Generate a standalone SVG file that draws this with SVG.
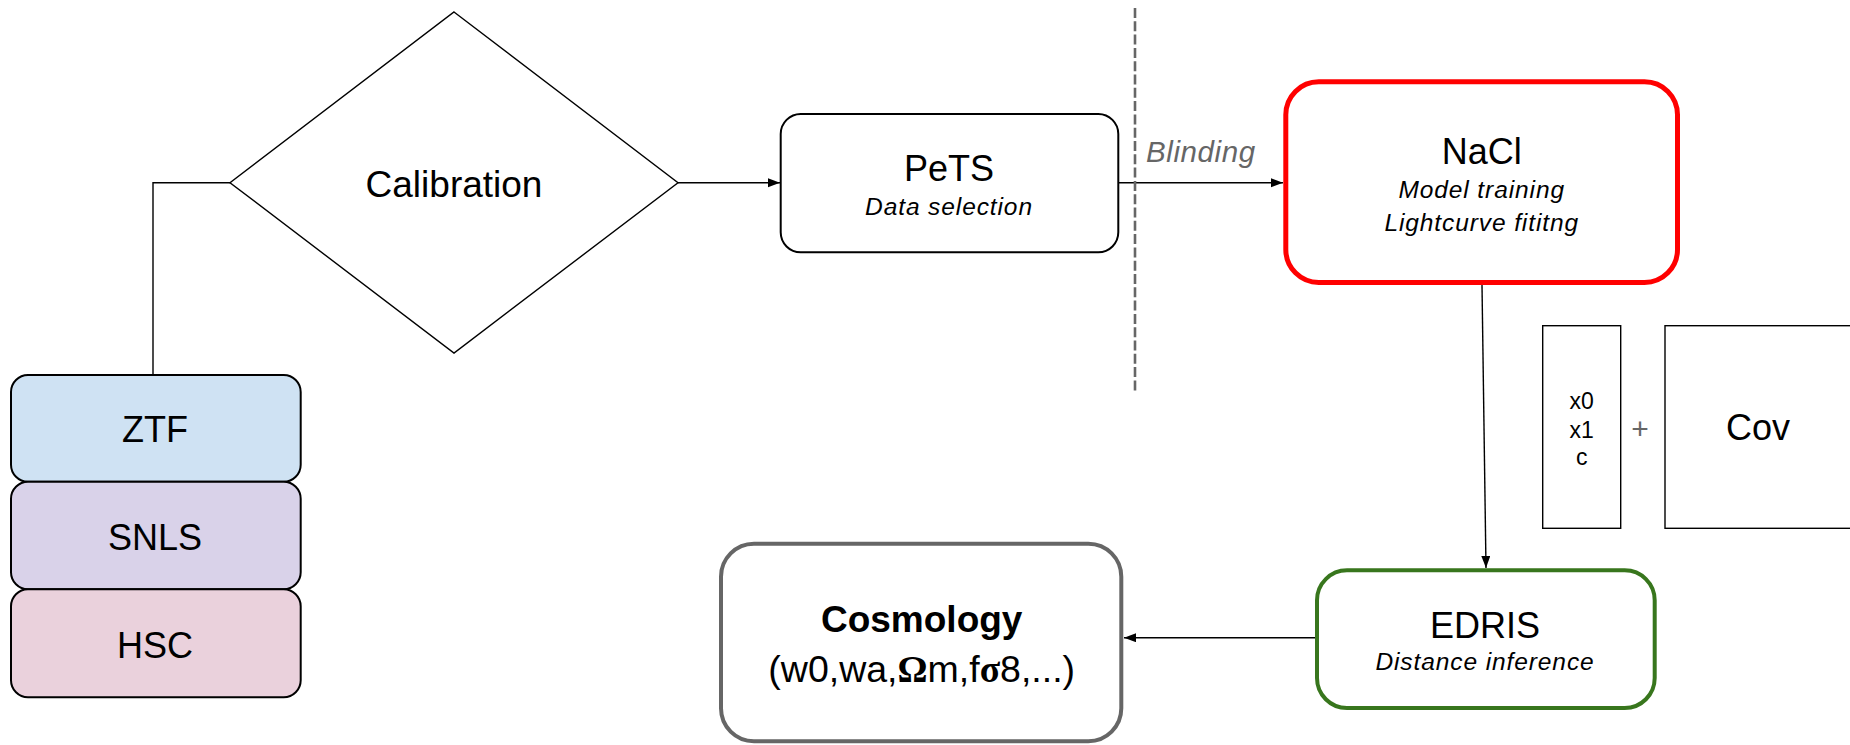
<svg xmlns="http://www.w3.org/2000/svg" width="1850" height="745" viewBox="0 0 1850 745">
<defs>
<style>
text{font-family:"Liberation Sans",Arial,sans-serif;fill:#000;text-anchor:middle}
.t{font-size:36px}
.i{font-size:24.5px;font-style:italic;letter-spacing:0.9px}
.c{fill:none;stroke:#000;stroke-width:1.4}
.box{stroke:#000;stroke-width:2}
</style>
<marker id="ah" markerUnits="userSpaceOnUse" markerWidth="13" markerHeight="10" refX="12" refY="4.5" orient="auto">
<path d="M0,0 L12,4.5 L0,9 z" fill="#000"/>
</marker>
</defs>
<rect width="1850" height="745" fill="#fff"/>

<g id="connectors">
<path class="c" d="M153 397 V182.7 H230"/>
<path class="c" d="M678 182.7 H780" marker-end="url(#ah)"/>
<path class="c" d="M1118.3 182.7 H1283" marker-end="url(#ah)"/>
<path class="c" d="M1482 285 L1486 568" marker-end="url(#ah)"/>
<path class="c" d="M1315 637.7 H1124" marker-end="url(#ah)"/>
<line x1="1135" y1="8" x2="1135" y2="392" stroke="#666" stroke-width="2.6" stroke-dasharray="10,3.3"/>
<text x="1146" y="161.5" style="font-size:29.5px;font-style:italic;fill:#666;letter-spacing:0.6px;text-anchor:start">Blinding</text>
</g>

<g id="ztf">
<rect class="box" x="11" y="375" width="289.7" height="106.7" rx="17" fill="#cfe2f3"/>
<text class="t" x="155" y="441.7">ZTF</text>
</g>
<g id="snls">
<rect class="box" x="11" y="481.7" width="289.7" height="107.6" rx="17" fill="#d9d2e9"/>
<text class="t" x="155" y="550">SNLS</text>
</g>
<g id="hsc">
<rect class="box" x="11" y="589.3" width="289.7" height="108" rx="17" fill="#ead1dc"/>
<text class="t" x="155" y="657.7">HSC</text>
</g>

<g id="calibration">
<polygon points="454,12 678,182.7 454,353 230,182.7" fill="#fff" stroke="#000" stroke-width="1.4"/>
<text x="454" y="196.7" style="font-size:37px">Calibration</text>
</g>

<g id="pets">
<rect class="box" x="780.7" y="114" width="337.6" height="138.3" rx="20" fill="#fff"/>
<text class="t" x="949" y="181">PeTS</text>
<text class="i" x="949" y="215">Data selection</text>
</g>

<g id="nacl">
<rect x="1285.8" y="81.8" width="391.7" height="200.7" rx="33" fill="#fff" stroke="#ff0000" stroke-width="5"/>
<text class="t" x="1481.7" y="164">NaCl</text>
<text class="i" x="1481.7" y="198.3">Model training</text>
<text class="i" x="1481.7" y="230.7">Lightcurve fititng</text>
</g>

<g id="params">
<rect x="1542.7" y="325.7" width="78" height="202.6" fill="#fff" stroke="#000" stroke-width="1.4"/>
<text x="1581.7" y="409.3" style="font-size:23px">x0</text>
<text x="1581.7" y="437.7" style="font-size:23px">x1</text>
<text x="1581.7" y="465" style="font-size:23px">c</text>
</g>
<g id="plus">
<text x="1640" y="439" style="font-size:30px;fill:#666">+</text>
</g>
<g id="cov">
<rect x="1665" y="325.7" width="200" height="202.6" fill="#fff" stroke="#000" stroke-width="1.4"/>
<text x="1758" y="440" style="font-size:36px">Cov</text>
</g>

<g id="edris">
<rect x="1317" y="570.3" width="337.7" height="137.7" rx="30" fill="#fff" stroke="#38761d" stroke-width="4"/>
<text class="t" x="1485" y="637.7">EDRIS</text>
<text class="i" x="1485" y="670">Distance inference</text>
</g>

<g id="cosmology">
<rect x="721" y="543.7" width="400.3" height="197.6" rx="33" fill="#fff" stroke="#666" stroke-width="4"/>
<text x="921.7" y="631.7" style="font-size:37px;font-weight:bold">Cosmology</text>
<text x="921.7" y="681.7" style="font-size:37.5px">(w0,wa,<tspan style="font-family:'Liberation Serif',serif;font-weight:bold">Ω</tspan>m,f<tspan style="font-family:'Liberation Serif',serif;font-weight:bold">σ</tspan>8,...)</text>
</g>
</svg>
